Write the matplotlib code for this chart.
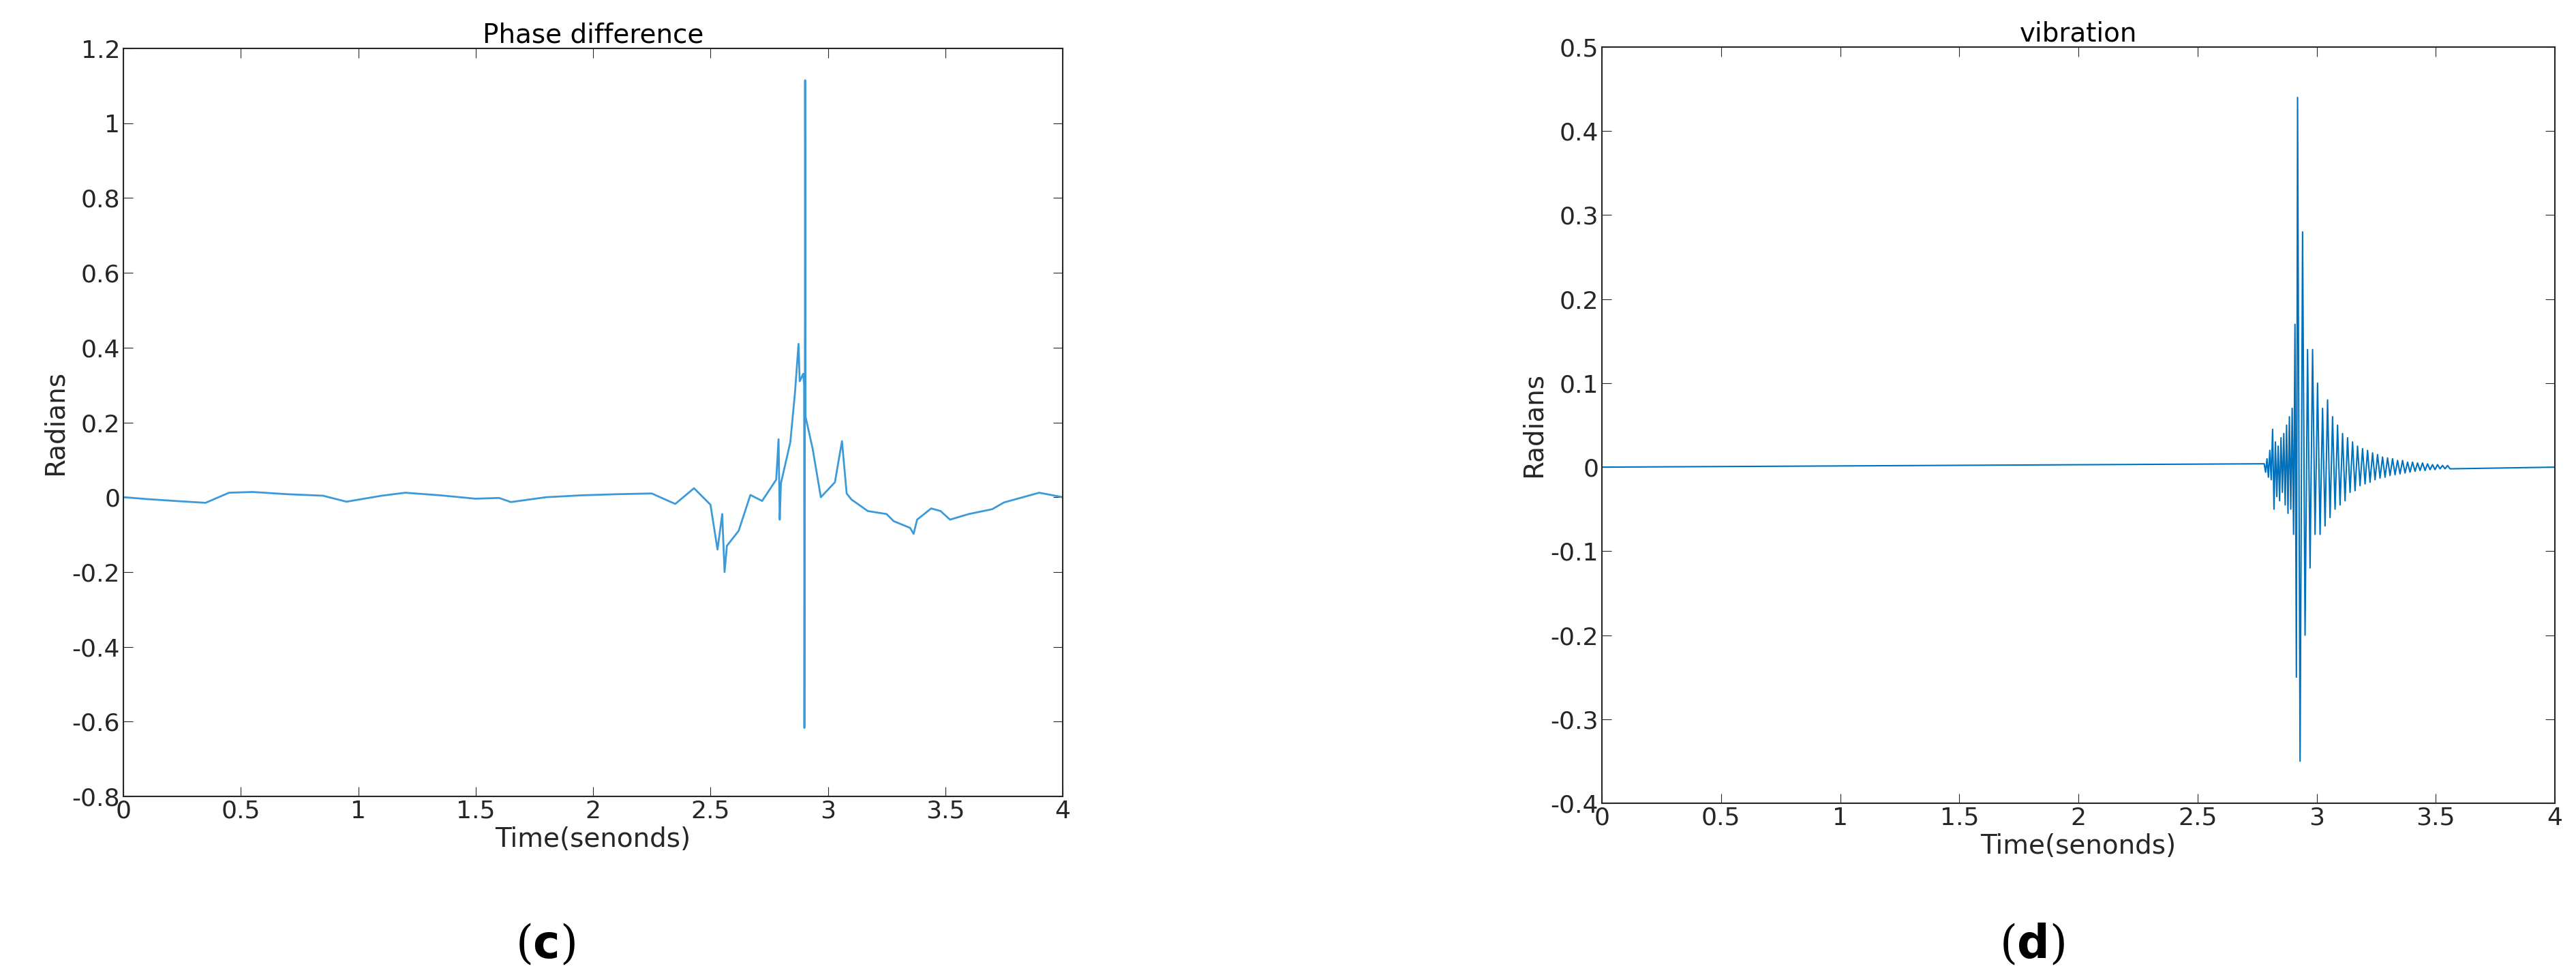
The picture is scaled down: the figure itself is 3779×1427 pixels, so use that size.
import numpy as np
import matplotlib.pyplot as plt

# Phase difference (c): breakpoints
phase_t = [0, 0.1, 0.22, 0.35, 0.45, 0.55, 0.7, 0.85, 0.95, 1.1, 1.2, 1.35, 1.5, 1.6, 1.65, 1.8,
           1.95, 2.1, 2.25, 2.35, 2.43, 2.5, 2.53, 2.55, 2.56, 2.57, 2.62, 2.67, 2.72, 2.78,
           2.79, 2.795, 2.80, 2.84, 2.86, 2.875, 2.88, 2.895, 2.899, 2.900, 2.902, 2.903,
           2.905, 2.935, 2.97, 3.03, 3.06, 3.08, 3.1, 3.17, 3.25, 3.28, 3.35, 3.365, 3.38,
           3.44, 3.48, 3.52, 3.6, 3.7, 3.75, 3.9, 4.0]
phase_y = [0, -0.005, -0.01, -0.015, 0.012, 0.014, 0.008, 0.004, -0.012, 0.004, 0.012, 0.005,
           -0.004, -0.002, -0.013, 0.0, 0.005, 0.008, 0.01, -0.018, 0.024, -0.02, -0.14, -0.045,
           -0.2, -0.13, -0.09, 0.006, -0.01, 0.047, 0.155, -0.06, 0.037, 0.147, 0.28, 0.41,
           0.31, 0.33, 0.3, -0.617, 0.2, 1.115, 0.215, 0.13, 0.0, 0.04, 0.15, 0.01, -0.006,
           -0.037, -0.045, -0.064, -0.082, -0.098, -0.06, -0.03, -0.037, -0.06, -0.045,
           -0.032, -0.014, 0.012, 0.0]

# Vibration (d): quiet baseline, then burst samples read by eye
vib_rise = [0.004, -0.006, 0.01, -0.012, 0.02, -0.015, 0.045, -0.05, 0.03, -0.035, 0.025,
            -0.04, 0.035, -0.03, 0.04, -0.045, 0.05, -0.055, 0.06, -0.05, 0.07, -0.08, 0.17,
            -0.25]
vib_decay = [0.44, -0.35, 0.28, -0.2, 0.14, -0.12, 0.14, -0.08, 0.1, -0.08, 0.07, -0.07,
             0.08, -0.06, 0.06, -0.05, 0.05, -0.045, 0.04, -0.04, 0.035, -0.03, 0.03, -0.028,
             0.025, -0.022, 0.022, -0.02, 0.02, -0.018, 0.017, -0.015, 0.015, -0.013, 0.012,
             -0.012, 0.011, -0.01, 0.01, -0.009, 0.008, -0.008, 0.008, -0.007, 0.006, -0.006,
             0.006, -0.005, 0.005, -0.004, 0.005, -0.004, 0.004, -0.003, 0.003, -0.003, 0.003,
             -0.002, 0.002, -0.002, 0.002, -0.002]
rise_t = np.linspace(2.78, 2.915, len(vib_rise))
decay_t = np.linspace(2.92, 3.56, len(vib_decay))
vib_t = [0.0] + list(rise_t) + list(decay_t) + [4.0]
vib_y = [0.0] + vib_rise + vib_decay + [0.0]

fig = plt.figure(figsize=(37.79, 14.27), dpi=100)
ax1 = fig.add_axes([181 / 3779, 1 - 1168 / 1427, 1378 / 3779, 1097 / 1427])
ax2 = fig.add_axes([2350 / 3779, 1 - 1178 / 1427, 1398 / 3779, 1109 / 1427])

ax1.plot(phase_t, phase_y, color='#3d9ad9', lw=2)
ax1.set_ylim(-0.8, 1.2)
ax1.set_yticks(np.arange(-0.8, 1.21, 0.2))
ax1.set_title('Phase difference')

ax2.plot(vib_t, vib_y, color='#0072BD', lw=1.5)
ax2.set_ylim(-0.4, 0.5)
ax2.set_yticks(np.arange(-0.4, 0.51, 0.1))
ax2.set_title('vibration')

for ax in (ax1, ax2):
    ax.set_xlim(0, 4)
    ax.set_xticks(np.arange(0, 4.01, 0.5))
    ax.set_xticklabels(['0', '0.5', '1', '1.5', '2', '2.5', '3', '3.5', '4'])
    ax.set_yticklabels(['%g' % (round(v, 1) + 0.0) for v in ax.get_yticks()])
    ax.set_xlabel('Time(senonds)', fontsize=28, color='#262626')
    ax.set_ylabel('Radians', fontsize=28, color='#262626')
    ax.title.set_fontsize(28)
    ax.tick_params(labelsize=26, colors='#262626', direction='in', length=10, top=True, right=True)
    for s in ax.spines.values():
        s.set_color('#262626')
        s.set_linewidth(1.5)

fig.text(800 / 3779, 1 - 1386 / 1427, r'($\mathbf{c}$)', fontsize=48, family='DejaVu Serif', ha='center', va='center')
fig.text(2981 / 3779, 1 - 1386 / 1427, r'($\mathbf{d}$)', fontsize=48, family='DejaVu Serif', ha='center', va='center')

fig.savefig('out.png', dpi=100)
